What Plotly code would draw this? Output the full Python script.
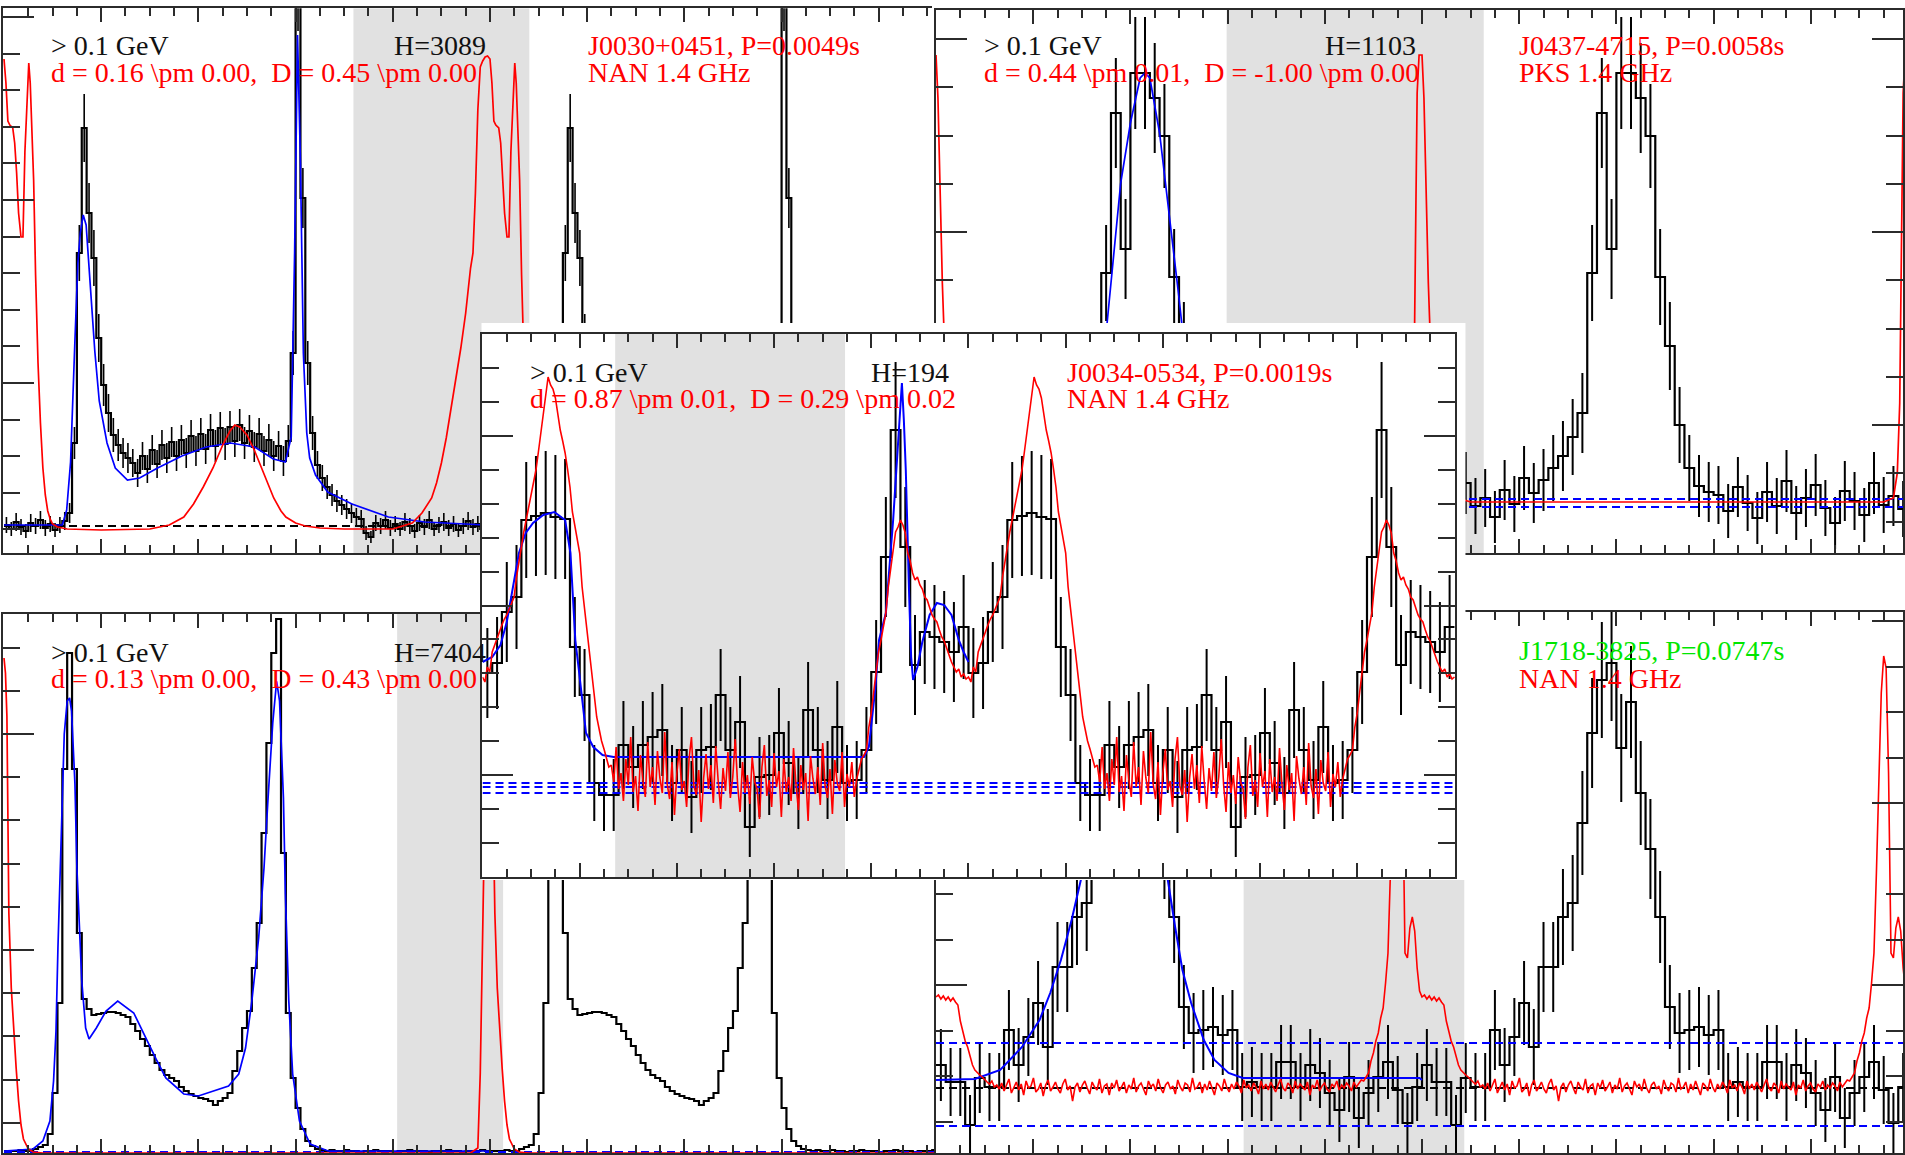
import numpy as np
import plotly.graph_objects as go

FIG_W, FIG_H = 1905, 1155
PX_PER_PHASE = 486.5            # horizontal scale shared by every panel
SERIF = "Liberation Serif, Times New Roman, serif"
FRAME = "#2b2b2b"
SHADE = "#e1e1e1"
RED, BLUE, GREEN, INK = "#ff0000", "#0000ff", "#00e600", "#111111"

# ---------------- J0030+0451 : Fermi > 0.1 GeV, 100 bins per rotation ----------------
a_gamma = [28, 24, 31, 26, 22, 30, 27, 33, 25, 29,
           23, 28, 32, 40, 110, 300, 425, 340, 295, 215,
           168, 140, 118, 108, 100, 95, 90, 80, 97, 84,
           103, 89, 108, 95, 111, 97, 113, 100, 117, 102,
           119, 104, 123, 107, 125, 109, 126, 112, 128, 110,
           122, 106, 119, 102, 113, 97, 107, 92, 112, 200,
           560, 355, 190, 120, 88, 75, 66, 58, 52, 48,
           44, 40, 36, 34, 20, 16, 30, 27, 33, 25,
           29, 24, 31, 27, 22, 30, 26, 33, 24, 28,
           31, 25, 29, 23, 27, 32, 26, 29, 24, 28]
a_gamma_err = [8, 7, 9, 8, 7, 9, 8, 9, 8, 8,
               7, 8, 9, 10, 16, 28, 34, 30, 28, 24,
               21, 19, 17, 16, 15, 15, 14, 14, 14, 14,
               15, 14, 15, 15, 15, 15, 15, 15, 16, 15,
               16, 15, 16, 16, 16, 16, 16, 16, 16, 16,
               16, 15, 16, 15, 16, 15, 15, 15, 16, 22,
               38, 30, 22, 17, 14, 13, 12, 11, 11, 10,
               10, 10, 9, 9, 7, 6, 8, 8, 9, 8,
               8, 7, 9, 8, 7, 8, 8, 9, 7, 8,
               9, 8, 8, 7, 8, 9, 8, 8, 7, 8]
a_model_phase = [0.0, 0.120, 0.129, 0.137, 0.146, 0.152, 0.157, 0.163, 0.169, 0.177,
                 0.187, 0.196, 0.212, 0.229, 0.254, 0.279, 0.316, 0.366, 0.416, 0.466,
                 0.516, 0.554, 0.579, 0.591, 0.598, 0.604, 0.610, 0.616, 0.623, 0.629,
                 0.641, 0.666, 0.716, 0.791, 0.866, 0.990]
a_model = [28, 28, 43, 91, 213, 290, 320, 338, 328, 274,
           201, 152, 110, 85, 73, 75, 85, 97, 106, 110,
           106, 94, 91, 116, 300, 518, 390, 200, 120, 95,
           78, 61, 49, 36, 31, 28]
a_radio_phase = [0.000, 0.004, 0.008, 0.012, 0.018, 0.022, 0.026, 0.030, 0.035, 0.039,
                 0.043, 0.048, 0.051, 0.054, 0.058, 0.061, 0.065, 0.070, 0.075, 0.080,
                 0.085, 0.090, 0.095, 0.100, 0.110, 0.130, 0.200, 0.300, 0.340, 0.370,
                 0.390, 0.410, 0.430, 0.450, 0.465, 0.475, 0.485, 0.500, 0.515, 0.530,
                 0.545, 0.555, 0.570, 0.580, 0.600, 0.620, 0.650, 0.700, 0.800, 0.840,
                 0.860, 0.880, 0.890, 0.900, 0.910, 0.920, 0.930, 0.940, 0.950, 0.960,
                 0.965, 0.970, 0.975, 0.980, 0.985, 0.990, 0.995]
a_radio = [494, 470, 432, 428, 425, 410, 380, 340, 316, 316,
           401, 470, 490, 470, 420, 373, 278, 190, 130, 85,
           58, 42, 34, 29, 26, 24, 23, 24, 28, 36,
           49, 66, 85, 108, 122, 128, 126, 118, 103, 85,
           67, 55, 42, 36, 30, 27, 25, 24, 24, 30,
           40, 55, 70, 90, 115, 145, 175, 205, 240, 285,
           300, 360, 443, 486, 492, 496, 497]
a_background = [27]
a_offpulse = [0.719, 1.081]

# ---------------- J0437-4715 : 50 bins ----------------
b_gamma = [52, 64, 41, 58, 70, 47, 55, 36, 63, 49,
           75, 60, 73, 85, 97, 116, 140, 280, 440, 304,
           480, 480, 455, 417, 276, 207, 128, 85, 67, 61,
           58, 42, 66, 50, 35, 61, 47, 72, 40, 55,
           68, 45, 30, 62, 52, 38, 70, 48, 57, 44]
b_gamma_err = [28, 30, 27, 29, 31, 28, 29, 26, 30, 28,
               32, 30, 31, 33, 35, 38, 40, 48, 55, 50,
               56, 56, 55, 52, 48, 44, 38, 33, 31, 30,
               29, 27, 30, 28, 26, 30, 28, 31, 27, 29,
               31, 28, 26, 30, 29, 27, 31, 28, 30, 28]
b_model_phase = [0.0, 0.26, 0.28, 0.30, 0.32, 0.34, 0.36, 0.38, 0.40, 0.42, 0.43,
                 0.44, 0.46, 0.48, 0.50, 0.52, 0.54, 0.56, 0.58, 0.60, 1.0]
b_model = [50, 50, 55, 70, 105, 170, 270, 370, 430, 475, 480,
           475, 420, 340, 255, 165, 105, 72, 57, 51, 50]
b_radio_phase = [0.000, 0.004, 0.008, 0.013, 0.018, 0.025, 0.035, 0.045, 0.060,
                 0.080, 0.100, 0.950, 0.970, 0.978, 0.983, 0.987, 0.990, 0.994]
b_radio = [498, 455, 372, 270, 200, 140, 95, 72, 60,
           54, 51, 51, 55, 80, 150, 300, 460, 498]
b_background = [54, 46]
b_offpulse = [0.598, 1.127]

# ---------------- bottom-left pulsar : 100 bins ----------------
c_gamma = [2, 2, 2, 3, 2, 2, 4, 6, 8, 19,
           60, 150, 384, 500, 384, 220, 154, 144, 138, 139,
           140, 141, 141, 140, 138, 136, 129, 122, 114, 107,
           98, 90, 83, 78, 75, 72, 66, 62, 59, 57,
           55, 54, 52, 48, 52, 55, 60, 82, 102, 125,
           142, 185, 230, 320, 410, 500, 534, 300, 140, 75,
           45, 24, 12, 7, 4, 3, 2, 3, 2, 2,
           3, 2, 2, 1, 2, 2, 3, 2, 2, 2,
           1, 2, 2, 3, 2, 2, 2, 1, 2, 2,
           2, 3, 2, 2, 1, 2, 2, 2, 3, 2]
c_model_phase = [0.0, 0.06, 0.08, 0.0945, 0.102, 0.107, 0.111, 0.117, 0.124, 0.130,
                 0.135, 0.139, 0.146, 0.150, 0.155, 0.160, 0.168, 0.175, 0.190, 0.210,
                 0.234, 0.267, 0.315, 0.333, 0.370, 0.400, 0.462, 0.483, 0.497, 0.510,
                 0.524, 0.535, 0.543, 0.553, 0.561, 0.567, 0.575, 0.579, 0.586, 0.594,
                 0.608, 0.630, 0.667, 1.0]
c_model = [2, 4, 12, 32, 72, 122, 205, 300, 419, 452,
           455, 442, 369, 285, 220, 172, 125, 114, 125, 142,
           152, 140, 92, 75, 59, 57, 67, 79, 105, 152,
           215, 285, 352, 430, 472, 452, 355, 259, 152, 79,
           32, 9, 2, 2]
c_radio_phase = [0.000, 0.003, 0.006, 0.008, 0.010, 0.015, 0.020, 0.025, 0.030, 0.035,
                 0.040, 0.050, 0.060, 0.080, 0.960, 0.975, 0.980, 0.983, 0.988, 0.992, 0.996]
c_radio = [495, 480, 437, 300, 240, 165, 120, 85, 52, 28,
           14, 4, 1, 0, 0, 5, 80, 172, 300, 420, 500]
c_background = [1]
c_offpulse = [0.809, 1.027]

# ---------------- J1718-3825 : 50 bins ----------------
d_gamma = [88, 71, 71, 28, 75, 66, 66, 123, 88, 116,
           150, 106, 186, 186, 236, 250, 330, 420, 473, 490,
           405, 451, 360, 304, 236, 146, 120, 123, 126, 118,
           123, 66, 71, 66, 66, 91, 91, 66, 88, 80,
           60, 43, 76, 35, 60, 76, 91, 63, 30, 66]
d_gamma_err = [36, 34, 34, 30, 35, 34, 34, 40, 37, 39,
               42, 38, 45, 45, 48, 48, 52, 55, 58, 58,
               54, 56, 52, 50, 46, 42, 40, 40, 40, 40,
               40, 34, 35, 34, 34, 37, 37, 34, 36, 35,
               33, 32, 35, 30, 33, 35, 37, 34, 30, 34]
d_model_phase = [0.0, 0.08, 0.132, 0.177, 0.213, 0.235, 0.257, 0.279, 0.298, 0.320,
                 0.340, 0.360, 0.380, 0.395, 0.410, 0.430, 0.450, 0.465, 0.477, 0.492,
                 0.507, 0.525, 0.551, 0.573, 0.602, 0.631, 0.995]
d_model = [73, 74, 83, 106, 133, 160, 193, 233, 273, 330,
           380, 420, 445, 450, 445, 420, 370, 320, 273, 226,
           183, 150, 113, 93, 80, 75, 75]
d_radio_head = [156, 158, 154, 157, 153, 156, 152, 155, 151, 148,
                132, 121, 112, 106, 98, 88, 83, 80, 78, 76,
                73, 71, 69, 72, 66, 68, 64]                 # phase 0.000 .. 0.130
d_radio_floor = [70, 62, 68, 74, 60, 66, 71, 63, 69, 58,
                 72, 65, 67, 75, 61, 64, 70, 57, 68, 73,
                 62, 66, 71, 64, 60, 69, 74, 63, 67, 52,
                 66, 70, 61, 68, 72, 65, 59, 71, 66, 63,
                 74, 60, 67, 69, 58, 70, 65, 73, 62, 66,
                 71, 60, 68, 64, 75, 61, 67, 70, 63, 58,
                 72, 66, 69, 62, 74, 65, 60, 68, 71, 64,
                 67, 59, 73, 66, 62, 70, 68, 61, 75, 64,
                 66, 71, 60, 69, 63, 72, 65, 58, 70, 67,
                 62, 74, 66, 61, 69, 64, 71, 67, 60, 73,
                 65, 68, 62, 70, 66, 59, 72, 64, 69, 63,
                 71, 66, 61, 68, 74, 65, 62, 70, 67, 60,
                 72, 64, 69, 66, 63, 71, 58, 68, 65, 73,
                 62, 67, 70, 64, 61, 69, 66, 72, 63, 68,
                 65, 70, 67, 62, 71, 66, 69, 73]           # phase 0.135 .. 0.875
d_radio_tail = [72, 76, 80, 92, 100, 112, 120, 135, 145, 170,
                200, 280, 380, 460, 497, 485, 380, 200, 195, 225,
                236, 222, 185, 162]                         # phase 0.880 .. 0.995
d_background_blue = [110, 27]
d_background_black = [65]
d_offpulse = [0.633, 1.087]

# ---------------- J0034-0534 : 50 bins ----------------
e_gamma = [204, 214, 265, 280, 357, 361, 364, 360, 358, 230,
           182, 94, 82, 82, 132, 110, 132, 140, 147, 94,
           127, 80, 127, 130, 182, 127, 155, 50, 100, 102,
           144, 114, 84, 167, 127, 97, 150, 94, 97, 127,
           205, 320, 447, 330, 212, 245, 240, 235, 225, 250]
e_gamma_err = [45, 46, 50, 52, 58, 60, 62, 62, 60, 50,
               46, 38, 36, 36, 44, 41, 44, 45, 46, 38,
               43, 36, 43, 43, 46, 43, 46, 30, 40, 40,
               45, 42, 36, 48, 43, 39, 46, 38, 39, 43,
               52, 60, 68, 60, 50, 52, 52, 51, 50, 52]
e_model_phase = [0.0, 0.02, 0.037, 0.05, 0.075, 0.089, 0.104, 0.125, 0.148, 0.170,
                 0.181, 0.188, 0.191, 0.199, 0.213, 0.228, 0.247, 0.270, 0.785, 0.795,
                 0.800, 0.808, 0.816, 0.830, 0.845, 0.856, 0.863, 0.867, 0.871, 0.878,
                 0.882, 0.886, 0.895, 0.905, 0.920, 0.935, 0.950, 0.965, 0.980, 0.990, 1.0]
e_model = [215, 220, 232, 255, 324, 344, 354, 362, 365, 357,
           324, 260, 237, 204, 144, 130, 122, 120, 120, 130,
           150, 187, 237, 264, 357, 440, 494, 457, 407, 280,
           220, 197, 210, 235, 262, 274, 272, 262, 237, 225, 215]
e_radio_head = [200, 195, 210, 205, 225, 232, 240, 245, 252, 258,
                262, 268, 275, 280, 300, 317, 330, 345, 357, 372,
                384, 396, 407, 425, 445, 460, 485, 500, 492, 488,
                479, 462, 447, 436, 424, 408, 390, 365, 352, 338,
                324, 290, 268, 245, 222, 200, 178, 160, 148, 136,
                128, 118, 110]                              # phase 0.000 .. 0.260
e_radio_floor = [112, 95, 130, 88, 104, 76, 118, 92, 140, 85,
                 101, 66, 122, 97, 80, 135, 90, 110, 72, 126,
                 99, 84, 145, 93, 78, 115, 62, 104, 128, 87,
                 96, 70, 118, 140, 91, 82, 107, 55, 99, 123,
                 88, 112, 74, 131, 96, 68, 109, 86, 125, 79,
                 100, 138, 92, 65, 115, 84, 102, 73, 120, 95,
                 88, 58, 110, 132, 81, 97, 70, 124, 90, 106,
                 60, 118, 85, 100, 76, 129, 93, 67, 112, 87,
                 104, 56, 121, 98, 83, 110, 72, 134, 91, 79,
                 108, 63, 117, 94, 86, 125, 70, 103, 90, 115,
                 80, 98, 108, 118, 122]                    # phase 0.265 .. 0.785
e_radio_tail = [127, 150, 164, 185, 204, 225, 237, 252, 264, 290,
                310, 330, 345, 350, 357, 352, 344, 324, 316, 304,
                297, 300, 292, 288, 280, 277, 270, 262, 258, 255,
                247, 240, 236, 228, 222, 215, 210, 205, 208, 200,
                203, 198]                                   # phase 0.790 .. 0.995
e_background = [94, 90, 84]
e_offpulse = [0.273, 0.746]


# ---------------------------------------------------------------------------
def ids(i):
    return ("x" if i == 1 else f"x{i}", "y" if i == 1 else f"y{i}")


def dom_x(x0, x1):
    return [x0 / FIG_W, x1 / FIG_W]


def dom_y(top, bottom):
    return [1 - bottom / FIG_H, 1 - top / FIG_H]


def histogram(vals, errs, xa, ya, ncyc=2, err_width=2):
    n = len(vals)
    edges = [i / n for i in range(n * ncyc)] + [float(ncyc)]
    heights = list(vals) * ncyc + [vals[-1]]
    out = [go.Scatter(x=edges, y=heights, mode="lines", xaxis=xa, yaxis=ya,
                      line=dict(color="black", width=2.2, shape="hv"),
                      hoverinfo="skip", showlegend=False)]
    if errs is not None:
        centers = [(i + 0.5) / n for i in range(n * ncyc)]
        out.append(go.Scatter(x=centers, y=list(vals) * ncyc, mode="markers",
                              marker=dict(size=2, color="rgba(0,0,0,0)"),
                              error_y=dict(type="data", array=list(errs) * ncyc,
                                           visible=True, color="black",
                                           thickness=err_width, width=0),
                              xaxis=xa, yaxis=ya, hoverinfo="skip", showlegend=False))
    return out


def cycles(phase, vals, upto):
    xs, ys = [], []
    for c in range(3):
        for p, v in zip(phase, vals):
            if p + c <= upto:
                xs.append(p + c)
                ys.append(v)
    return xs, ys


def curve(phase, vals, xa, ya, color, upto, width=1.7):
    xs, ys = cycles(phase, vals, upto)
    return go.Scatter(x=xs, y=ys, mode="lines", xaxis=xa, yaxis=ya,
                      line=dict(color=color, width=width),
                      hoverinfo="skip", showlegend=False)


def level(v, xa, ya, color, x0=0.0, x1=2.0):
    return go.Scatter(x=[x0, x1], y=[v, v], mode="lines", xaxis=xa, yaxis=ya,
                      line=dict(color=color, width=2, dash="8px,5px"),
                      hoverinfo="skip", showlegend=False)


# panel geometry (pixels): left, top, right, bottom; x of phase 0; y-tick layout
panels = {
    1: dict(box=(3, 8.3, 933, 553), phase0=4, tick0=170, dtick=183, minor=36.6, mirror=False),
    2: dict(box=(937, 10, 1905, 553), phase0=937, tick0=128, dtick=193, minor=48.25, mirror="ticks"),
    3: dict(box=(3, 614, 937, 1153), phase0=4, tick0=203, dtick=216, minor=43.2, mirror=False),
    4: dict(box=(937, 612, 1905, 1153), phase0=937, tick0=168, dtick=182, minor=45.5, mirror="ticks"),
    6: dict(box=(483, 334, 1456.5, 877), phase0=483, tick0=102, dtick=169.5, minor=33.9, mirror="ticks"),
}
insert_backing = (482, 323, 1467, 880)   # white card behind the inset panel

layout = dict(width=FIG_W, height=FIG_H, margin=dict(l=0, r=0, t=0, b=0),
              paper_bgcolor="white", plot_bgcolor="white", showlegend=False,
              shapes=[], annotations=[])

ymax = {}
for i, p in panels.items():
    left, top, right, bottom = p["box"]
    xa, ya = ids(i)
    ymax[i] = bottom - top
    xr = [(left - p["phase0"]) / PX_PER_PHASE, (right - p["phase0"]) / PX_PER_PHASE]
    layout["xaxis" if i == 1 else f"xaxis{i}"] = dict(
        domain=dom_x(left, right), range=xr, anchor=ya,
        showline=True, linecolor=FRAME, linewidth=2, mirror="ticks",
        ticks="inside", ticklen=14, tickwidth=2, tickcolor=FRAME,
        tickmode="linear", tick0=0, dtick=0.2, showticklabels=False,
        showgrid=False, zeroline=False, fixedrange=True,
        minor=dict(ticks="inside", ticklen=8, tickwidth=2, tickcolor=FRAME,
                   tickmode="linear", tick0=0, dtick=0.05, showgrid=False))
    layout["yaxis" if i == 1 else f"yaxis{i}"] = dict(
        domain=dom_y(top, bottom), range=[0, ymax[i]], anchor=xa,
        showline=True, linecolor=FRAME, linewidth=2, mirror=p["mirror"],
        ticks="inside", ticklen=31, tickwidth=2, tickcolor=FRAME,
        tickmode="linear", tick0=p["tick0"], dtick=p["dtick"], showticklabels=False,
        showgrid=False, zeroline=False, fixedrange=True,
        minor=dict(ticks="inside", ticklen=17, tickwidth=2, tickcolor=FRAME,
                   tickmode="linear", tick0=p["tick0"], dtick=p["minor"], showgrid=False))

bl, bt, br, bb = insert_backing
layout["xaxis5"] = dict(domain=dom_x(bl, br), range=[0, 1], anchor="y5", visible=False)
layout["yaxis5"] = dict(domain=dom_y(bt, bb), range=[0, 1], anchor="x5", visible=False)

# off-pulse windows
for i, win in [(1, a_offpulse), (2, b_offpulse), (3, c_offpulse), (4, d_offpulse), (6, e_offpulse)]:
    xa, ya = ids(i)
    layout["shapes"].append(dict(type="rect", xref=xa, yref=ya, x0=win[0], x1=win[1],
                                 y0=0, y1=ymax[i], fillcolor=SHADE, line_width=0,
                                 layer="below"))

traces = []

# J0030+0451
xa, ya = ids(1)
traces += histogram(a_gamma, a_gamma_err, xa, ya, err_width=1.6)
traces.append(level(a_background[0], xa, ya, "black", 0.0, 1.0))
traces.append(curve(a_model_phase, a_model, xa, ya, BLUE, 1.0))
traces.append(curve(a_radio_phase, a_radio, xa, ya, RED, 1.085))

# J0437-4715
xa, ya = ids(2)
traces += histogram(b_gamma, b_gamma_err, xa, ya)
for v in b_background:
    traces.append(level(v, xa, ya, BLUE))
traces.append(curve(b_model_phase, b_model, xa, ya, BLUE, 1.0))
traces.append(curve(b_radio_phase, b_radio, xa, ya, RED, 2.0))

# bottom-left pulsar
xa, ya = ids(3)
traces += histogram(c_gamma, None, xa, ya)
traces.append(level(c_background[0], xa, ya, BLUE))
traces.append(curve(c_model_phase, c_model, xa, ya, BLUE, 1.0))
traces.append(curve(c_radio_phase, c_radio, xa, ya, RED, 2.0))

# J1718-3825
xa, ya = ids(4)
d_radio_phase = (list(np.linspace(0.0, 0.130, len(d_radio_head)))
                 + list(np.linspace(0.135, 0.875, len(d_radio_floor)))
                 + list(np.linspace(0.880, 0.995, len(d_radio_tail))))
d_radio = d_radio_head + d_radio_floor + d_radio_tail
traces += histogram(d_gamma, d_gamma_err, xa, ya)
for v in d_background_blue:
    traces.append(level(v, xa, ya, BLUE))
traces.append(level(d_background_black[0], xa, ya, "black"))
traces.append(curve(d_model_phase, d_model, xa, ya, BLUE, 1.0, width=2))
traces.append(curve(d_radio_phase, d_radio, xa, ya, RED, 2.0, width=1.6))

# white card behind the inset
traces.append(go.Scatter(x=[None], y=[None], xaxis="x5", yaxis="y5", mode="lines",
                         hoverinfo="skip", showlegend=False))

# J0034-0534 (inset)
xa, ya = ids(6)
e_radio_phase = (list(np.linspace(0.0, 0.260, len(e_radio_head)))
                 + list(np.linspace(0.265, 0.785, len(e_radio_floor)))
                 + list(np.linspace(0.790, 0.995, len(e_radio_tail))))
e_radio = e_radio_head + e_radio_floor + e_radio_tail
traces += histogram(e_gamma, e_gamma_err, xa, ya)
for v in e_background:
    traces.append(level(v, xa, ya, BLUE))
traces.append(curve(e_model_phase, e_model, xa, ya, BLUE, 1.0, width=2))
traces.append(curve(e_radio_phase, e_radio, xa, ya, RED, 2.0, width=1.6))


def label(text, x_px, baseline_px, color):
    return dict(text=text, x=x_px / FIG_W, y=1 - (baseline_px - 9.5) / FIG_H,
                xref="paper", yref="paper", xanchor="left", yanchor="middle",
                showarrow=False, borderpad=0,
                font=dict(family=SERIF, size=28, color=color))


layout["annotations"] = [
    label("&gt; 0.1 GeV", 50, 55, INK),
    label("d = 0.16 \\pm 0.00,\u00a0 D = 0.45 \\pm 0.00", 50, 82, RED),
    label("H=3089", 393, 55, INK),
    label("J0030+0451, P=0.0049s", 588, 55, RED),
    label("NAN 1.4 GHz", 588, 82, RED),

    label("&gt; 0.1 GeV", 984, 55, INK),
    label("d = 0.44 \\pm 0.01,\u00a0 D = -1.00 \\pm 0.00", 984, 82, RED),
    label("H=1103", 1325, 55, INK),
    label("J0437-4715, P=0.0058s", 1520, 55, RED),
    label("PKS 1.4 GHz", 1520, 82, RED),

    label("&gt; 0.1 GeV", 50, 662, INK),
    label("d = 0.13 \\pm 0.00,\u00a0 D = 0.43 \\pm 0.00", 50, 688, RED),
    label("H=7404", 393, 662, INK),

    label("J1718-3825, P=0.0747s", 1520, 660, GREEN),
    label("NAN 1.4 GHz", 1520, 688, RED),

    label("&gt; 0.1 GeV", 530, 382, INK),
    label("d = 0.87 \\pm 0.01,\u00a0 D = 0.29 \\pm 0.02", 530, 408, RED),
    label("H=194", 871, 382, INK),
    label("J0034-0534, P=0.0019s", 1067, 382, RED),
    label("NAN 1.4 GHz", 1067, 408, RED),
]

fig = go.Figure(data=traces, layout=layout)
fig.write_html("out.html")
